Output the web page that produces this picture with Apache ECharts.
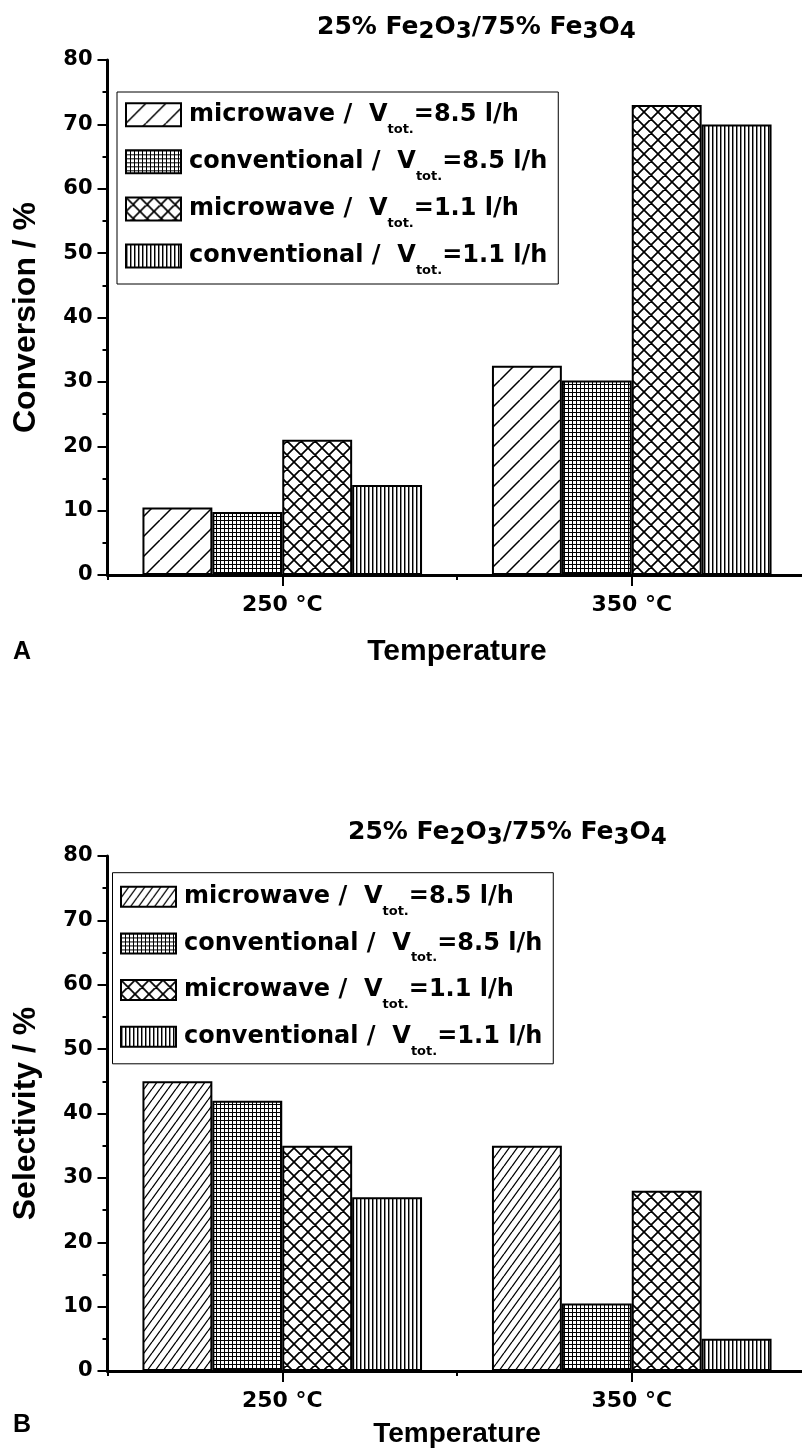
<!DOCTYPE html>
<html>
<head>
<meta charset="utf-8">
<script src="https://cdn.jsdelivr.net/npm/echarts@6.0.0/dist/echarts.min.js"></script>
<style>
  html, body { margin: 0; padding: 0; background: #fff; }
  #chart { width: 802px; height: 1450px; }
</style>
</head>
<body>
<div id="chart"></div>
<script>
// ---------- data ----------
const categories = ['250 °C', '350 °C'];
const yTicks = { min: 0, max: 80, interval: 10 };

// legend labels split in: text before subscript, subscript, text after
const legendLabels = [
  ['microwave /  V', 'tot.', '=8.5 l/h'],
  ['conventional /  V', 'tot.', '=8.5 l/h'],
  ['microwave /  V', 'tot.', '=1.1 l/h'],
  ['conventional /  V', 'tot.', '=1.1 l/h']
];

// Panel A: Conversion / %
const conversionMicrowave85 = [10.5, 32.5];
const conversionConventional85 = [9.8, 30.2];
const conversionMicrowave11 = [21.0, 73.0];
const conversionConventional11 = [14.0, 70.0];

// Panel B: Selectivity / %
const selectivityMicrowave85 = [45.0, 35.0];
const selectivityConventional85 = [42.0, 10.5];
const selectivityMicrowave11 = [35.0, 28.0];
const selectivityConventional11 = [27.0, 5.0];

// ---------- hatch patterns ----------
function makePattern(w, h, draw) {
  const c = document.createElement('canvas');
  c.width = w; c.height = h;
  const ctx = c.getContext('2d');
  ctx.fillStyle = '#fff';
  ctx.fillRect(0, 0, w, h);
  ctx.strokeStyle = '#000';
  ctx.fillStyle = '#000';
  draw(ctx, w, h);
  return { image: c, repeat: 'repeat' };
}
function diag(w, h, lw) {
  return makePattern(w, h, (ctx) => {
    ctx.lineWidth = lw;
    ctx.beginPath();
    for (let k = -1; k <= 1; k++) {
      ctx.moveTo(k * w, h);
      ctx.lineTo(k * w + w, 0);
    }
    ctx.stroke();
  });
}
function cross(w, h, lw) {
  return makePattern(w, h, (ctx) => {
    ctx.lineWidth = lw;
    ctx.beginPath();
    for (let k = -1; k <= 1; k++) {
      ctx.moveTo(k * w, h);
      ctx.lineTo(k * w + w, 0);
      ctx.moveTo(k * w, 0);
      ctx.lineTo(k * w + w, h);
    }
    ctx.stroke();
  });
}
function gridPat(w, h) {
  return makePattern(w, h, (ctx) => {
    ctx.fillRect(0, 0, w, 1);
    ctx.fillRect(0, 0, 1, h);
  });
}
function vertPat(w, h) {
  return makePattern(w, h, (ctx) => {
    ctx.fillRect(0, 0, 1, h);
    ctx.fillStyle = 'rgba(0,0,0,0.45)';
    ctx.fillRect(1, 0, 1, h);
  });
}

const patternsA = [diag(20, 20, 1.5), gridPat(4, 4), cross(14, 14, 1.7), vertPat(4, 4)];
const patternsB = [diag(8, 11, 1.3), gridPat(4, 4), cross(14, 14, 1.7), vertPat(4, 4)];

// ---------- styles ----------
const dv = 'DejaVu Sans';
const lib = 'Liberation Sans';

const legendRich = {
  f: { fontFamily: dv, fontWeight: 'bold', fontSize: 24, lineHeight: 42, color: '#000', padding: [0, 0, 0, 3] },
  m: { fontFamily: dv, fontWeight: 'bold', fontSize: 24, lineHeight: 42, color: '#000' },
  s: { fontFamily: dv, fontWeight: 'bold', fontSize: 13, lineHeight: 13, color: '#000', padding: [29, 0, 0, 0] }
};
function legendFormatter(name) {
  const p = legendLabels[parseInt(name.slice(1), 10)];
  return '{f|' + p[0] + '}{s|' + p[1] + '}{m|' + p[2] + '}';
}
const titleText = '{m|25% Fe}{s|2}{m|O}{s|3}{m|/75% Fe}{s|3}{m|O}{s|4}';
const titleRich = {
  m: { fontFamily: dv, fontWeight: 'bold', fontSize: 25, lineHeight: 25, color: '#000', verticalAlign: 'top' },
  s: { fontFamily: dv, fontWeight: 'bold', fontSize: 23, lineHeight: 23, color: '#000', padding: [11, 0, 0, 0] }
};

function yAxisDef(gridIndex, name) {
  return {
    type: 'value', gridIndex: gridIndex,
    min: yTicks.min, max: yTicks.max, interval: yTicks.interval,
    name: name, nameLocation: 'middle', nameGap: 65,
    nameTextStyle: { fontFamily: lib, fontWeight: 'bold', fontSize: 32, color: '#000' },
    axisLine: { show: true, lineStyle: { color: '#000', width: 3 } },
    axisTick: { show: true, inside: false, length: 10, lineStyle: { color: '#000', width: 2 } },
    minorTick: { show: true, splitNumber: 2, length: 5, lineStyle: { color: '#000', width: 2 } },
    splitLine: { show: false },
    axisLabel: { margin: 15, fontFamily: dv, fontWeight: 'bold', fontSize: 21, color: '#000' }
  };
}
function xAxisMain(gridIndex, nameGap, nameSize) {
  return {
    type: 'category', gridIndex: gridIndex, position: 'bottom', data: categories,
    name: 'Temperature', nameLocation: 'middle', nameGap: nameGap,
    nameTextStyle: { fontFamily: lib, fontWeight: 'bold', fontSize: nameSize, color: '#000' },
    axisLine: { show: true, onZero: false, lineStyle: { color: '#000', width: 3 } },
    axisTick: { show: true, alignWithLabel: true, length: 11, lineStyle: { color: '#000', width: 2 } },
    axisLabel: { margin: 19, fontFamily: dv, fontWeight: 'bold', fontSize: 22, color: '#000' },
    splitLine: { show: false }
  };
}
function xAxisBoundary(gridIndex) {
  return {
    type: 'category', gridIndex: gridIndex, position: 'bottom', data: categories,
    axisLine: { show: false },
    axisTick: { show: true, alignWithLabel: false, length: 5, lineStyle: { color: '#000', width: 2 } },
    axisLabel: { show: false },
    splitLine: { show: false }
  };
}
function barSeries(prefix, idx, xAxisIndex, yAxisIndex, values, pattern) {
  return {
    name: prefix + idx, type: 'bar', xAxisIndex: xAxisIndex, yAxisIndex: yAxisIndex,
    data: values, barGap: '0%', barCategoryGap: '20%',
    itemStyle: { color: pattern, borderColor: '#000', borderWidth: 2 },
    emphasis: { disabled: true },
    animation: false
  };
}

const valuesA = [conversionMicrowave85, conversionConventional85, conversionMicrowave11, conversionConventional11];
const valuesB = [selectivityMicrowave85, selectivityConventional85, selectivityMicrowave11, selectivityConventional11];

const series = [];
valuesA.forEach((v, i) => series.push(barSeries('A', i, 0, 0, v, patternsA[i])));
valuesB.forEach((v, i) => series.push(barSeries('B', i, 2, 1, v, patternsB[i])));

const option = {
  animation: false,
  backgroundColor: '#fff',
  title: [
    { text: titleText, left: 317, top: 14.5, padding: 0, textStyle: { rich: titleRich } },
    { text: titleText, left: 348, top: 820, padding: 0, textStyle: { rich: titleRich } },
    { text: 'A', left: 13, top: 640, padding: 0, textStyle: { fontFamily: lib, fontWeight: 'bold', fontSize: 25, lineHeight: 25, color: '#000' } },
    { text: 'B', left: 13, top: 1412.5, padding: 0, textStyle: { fontFamily: lib, fontWeight: 'bold', fontSize: 25, lineHeight: 25, color: '#000' } }
  ],
  grid: [
    { left: 107.5, top: 60, width: 699, height: 515, outerBoundsMode: 'none', containLabel: false },
    { left: 107.5, top: 856, width: 699, height: 515, outerBoundsMode: 'none', containLabel: false }
  ],
  legend: [
    {
      data: ['A0', 'A1', 'A2', 'A3'], orient: 'vertical', align: 'left',
      left: 117, top: 92, padding: [1.7, 11, 7, 8], itemGap: 5.1,
      itemWidth: 55, itemHeight: 23, icon: 'rect',
      borderColor: '#000', borderWidth: 1, backgroundColor: '#fff',
      selectedMode: false, formatter: legendFormatter,
      textStyle: { rich: legendRich }
    },
    {
      data: ['B0', 'B1', 'B2', 'B3'], orient: 'vertical', align: 'left',
      left: 112.5, top: 872.7, padding: [3, 11, 6, 7.5], itemGap: 4.7,
      itemWidth: 55, itemHeight: 20, icon: 'rect',
      borderColor: '#000', borderWidth: 1, backgroundColor: '#fff',
      selectedMode: false, formatter: legendFormatter,
      textStyle: { rich: legendRich }
    }
  ],
  xAxis: [
    xAxisMain(0, 62, 30),
    xAxisBoundary(0),
    xAxisMain(1, 49, 28),
    xAxisBoundary(1)
  ],
  yAxis: [
    yAxisDef(0, 'Conversion / %'),
    yAxisDef(1, 'Selectivity / %')
  ],
  series: series
};

const chart = echarts.init(document.getElementById('chart'), null, { renderer: 'canvas' });
chart.setOption(option);
</script>
</body>
</html>
